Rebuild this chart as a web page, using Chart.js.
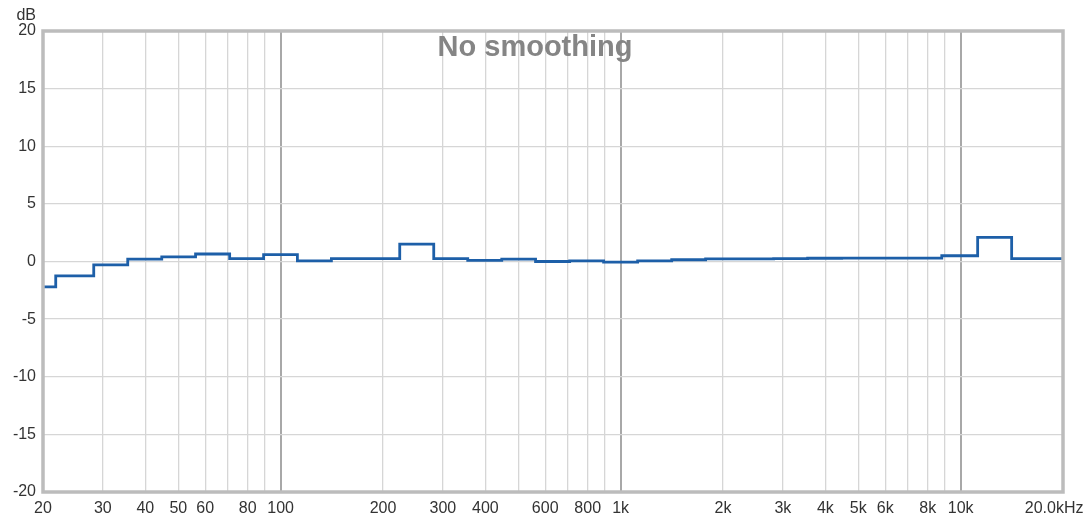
<!DOCTYPE html>
<html>
<head>
<meta charset="utf-8">
<script src="https://cdn.jsdelivr.net/npm/chart.js@4/dist/chart.umd.min.js"></script>
<style>
    html, body { margin: 0; padding: 0; background: #fff; }
    canvas { display: block; }
</style>
</head>
<body>
<canvas id="rewChart" width="1089" height="522"></canvas>
<script>
// 1/3 octave band lower edges (Hz), last entry closes the final band
const bandEdges = [20, 21.8, 28.2, 35.5, 44.7, 56.2, 70.8, 89.1, 112, 141, 178, 224, 282, 355, 447, 562, 708, 891, 1122, 1413, 1778, 2239, 2818, 3548, 4467, 5623, 7079, 8800, 11220, 14125, 17783, 20000];
// level of each band (dB), last value repeated for the closing edge
const bandLevels = [-2.2, -1.25, -0.3, 0.2, 0.4, 0.65, 0.25, 0.6, 0.05, 0.25, 0.25, 1.5, 0.25, 0.1, 0.2, 0.0, 0.05, -0.05, 0.05, 0.15, 0.22, 0.22, 0.25, 0.28, 0.3, 0.3, 0.3, 0.5, 2.1, 0.25, 0.25, 0.25];

const gridFreqs = [20, 30, 40, 50, 60, 70, 80, 90, 100, 200, 300, 400, 500, 600, 700, 800, 900, 1000, 2000, 3000, 4000, 5000, 6000, 7000, 8000, 9000, 10000, 20000];
const freqLabels = { 20: '20', 30: '30', 40: '40', 50: '50', 60: '60', 80: '80', 100: '100', 200: '200', 300: '300', 400: '400', 600: '600', 800: '800', 1000: '1k', 2000: '2k', 3000: '3k', 4000: '4k', 5000: '5k', 6000: '6k', 8000: '8k', 10000: '10k', 20000: '20.0kHz    ' };
const decadeLines = [100, 1000, 10000];

const yMin = -20;
const yMax = 20;
const yStep = 5;

const titleText = 'No smoothing';
const unitText = 'dB';

const fontFamily = '"Liberation Sans", Arial, sans-serif';

// marco del grafico y textos dentro del area
const framePlugin = {
    id: 'framePlugin',
    afterDraw(chart) {
        const { ctx, chartArea } = chart;
        ctx.save();
        ctx.strokeStyle = '#bcbcbc';
        ctx.lineWidth = 3.5;
        ctx.strokeRect(chartArea.left, chartArea.top, chartArea.right - chartArea.left, chartArea.bottom - chartArea.top);

        ctx.fillStyle = '#858585';
        ctx.font = 'bold 29px ' + fontFamily;
        ctx.textAlign = 'center';
        ctx.textBaseline = 'alphabetic';
        ctx.fillText(titleText, 535, 56);

        ctx.fillStyle = '#333';
        ctx.font = '16px ' + fontFamily;
        ctx.textAlign = 'right';
        ctx.fillText(unitText, 36, 20);
        ctx.restore();
    }
};

const points = bandEdges.map((f, i) => ({ x: f, y: bandLevels[i] }));

const ctx = document.getElementById('rewChart').getContext('2d');
new Chart(ctx, {
    type: 'line',
    data: {
        datasets: [{
            data: points,
            borderColor: '#1d5fa8',
            borderWidth: 2.8,
            pointRadius: 0,
            stepped: true,
            fill: false
        }]
    },
    options: {
        responsive: false,
        animation: false,
        devicePixelRatio: 1,
        layout: {
            padding: { top: 31, right: 26, left: 0, bottom: 0 }
        },
        plugins: {
            legend: { display: false },
            tooltip: { enabled: false }
        },
        scales: {
            x: {
                type: 'logarithmic',
                min: 20,
                max: 20000,
                afterBuildTicks: scale => {
                    scale.ticks = gridFreqs.map(v => ({ value: v }));
                },
                afterFit: scale => {
                    scale.height = 30;
                    scale.paddingLeft = 0;
                    scale.paddingRight = 0;
                },
                ticks: {
                    autoSkip: false,
                    maxRotation: 0,
                    minRotation: 0,
                    padding: 7,
                    color: '#333',
                    font: { family: fontFamily, size: 16 },
                    callback: value => freqLabels[value] || ''
                },
                grid: {
                    drawTicks: false,
                    color: c => (c.tick && decadeLines.includes(c.tick.value)) ? '#a8a8a8' : '#d6d6d6',
                    lineWidth: c => (c.tick && decadeLines.includes(c.tick.value)) ? 2 : 1.3
                },
                border: { display: false }
            },
            y: {
                min: yMin,
                max: yMax,
                afterFit: scale => {
                    scale.width = 43;
                    scale.paddingTop = 0;
                    scale.paddingBottom = 0;
                },
                ticks: {
                    stepSize: yStep,
                    padding: 7,
                    color: '#333',
                    font: { family: fontFamily, size: 16 }
                },
                grid: {
                    drawTicks: false,
                    color: '#d6d6d6',
                    lineWidth: 1.3
                },
                border: { display: false }
            }
        }
    },
    plugins: [framePlugin]
});
</script>
</body>
</html>
